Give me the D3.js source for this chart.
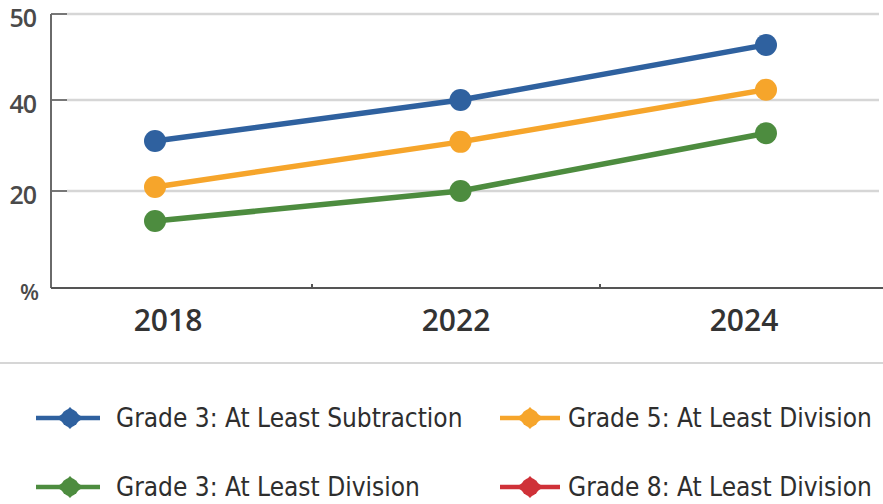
<!DOCTYPE html>
<html><head><meta charset="utf-8">
<script src="https://cdn.jsdelivr.net/npm/d3@7/dist/d3.min.js"></script>
<style>body{margin:0;background:#fff}svg{display:block}</style>
</head><body>
<svg id="c" width="883" height="504"></svg>
<script>
const years = ["2018", "2022", "2024"];
const seriesNames = ["Grade 3: At Least Subtraction", "Grade 5: At Least Division", "Grade 3: At Least Division", "Grade 8: At Least Division"];
const seriesColors = ["#2f619f", "#f6a52b", "#4d8c3f", "#cf3138"];
const blueValues = [31, 40, 46.4];
const orangeValues = [20.9, 30.8, 41.2];
const greenValues = [13.8, 20, 32.7];
const redValues = []; // listed in legend only
const yTickValues = [0, 20, 40, 50];
const yTickLabels = ["%", "20", "40", "50"];

const svg = d3.select("#c");
const y = d3.scaleLinear().domain([0, 20, 40, 50]).range([288, 191, 100, 14]);
const x = d3.scalePoint().domain(years).range([155, 766]);
const xLab = d3.scalePoint().domain(years).range([168, 744]);
const left = 51, right = 883, gridEnd = 879;

// gridlines
svg.append("g").selectAll("line").data(yTickValues.filter(v => v > 0)).join("line")
  .attr("x1", left + 16).attr("x2", gridEnd).attr("y1", d => y(d)).attr("y2", d => y(d))
  .attr("stroke", "#d6d6d6").attr("stroke-width", 2.5);
// y tick marks
svg.append("g").selectAll("line").data(yTickValues.filter(v => v > 0)).join("line")
  .attr("x1", left).attr("x2", left + 16).attr("y1", d => y(d)).attr("y2", d => y(d))
  .attr("stroke", "#777").attr("stroke-width", 2);
// axes
svg.append("line").attr("x1", left).attr("x2", left).attr("y1", y(50)).attr("y2", y(0))
  .attr("stroke", "#6a6a6a").attr("stroke-width", 2);
svg.append("line").attr("x1", left).attr("x2", right).attr("y1", y(0)).attr("y2", y(0))
  .attr("stroke", "#555").attr("stroke-width", 2.2);
// small x ticks between categories
const mids = [ (xLab("2018") + xLab("2022")) / 2, (xLab("2022") + xLab("2024")) / 2 ];
svg.append("g").selectAll("line").data(mids).join("line")
  .attr("x1", d => d).attr("x2", d => d).attr("y1", y(0) - 4).attr("y2", y(0))
  .attr("stroke", "#555").attr("stroke-width", 2);

// y labels
svg.append("g").selectAll("text").data(yTickValues).join("text")
  .attr("x", 36).attr("y", d => y(d) + 6)
  .attr("text-anchor", "end").attr("dominant-baseline", "middle")
  .attr("font-family", "'Open Sans', sans-serif").attr("font-size", d => d === 0 ? 22 : 25).attr("font-weight", 600)
  .attr("fill", "#4a4a4a").attr("letter-spacing", d => d === 0 ? -3 : -1)
  .text((d, i) => yTickLabels[i]);

// x labels
svg.append("g").selectAll("text").data(years).join("text")
  .attr("x", d => xLab(d)).attr("y", 323)
  .attr("text-anchor", "middle").attr("dominant-baseline", "middle")
  .attr("font-family", "'Open Sans', sans-serif").attr("font-size", 30).attr("font-weight", 600)
  .attr("fill", "#333")
  .text(d => d);

// separator
svg.append("line").attr("x1", 0).attr("x2", 883).attr("y1", 363).attr("y2", 363)
  .attr("stroke", "#c8c8c8").attr("stroke-width", 1.5);

// series
const series = [blueValues, orangeValues, greenValues, redValues];
const line = d3.line().x((d, i) => x(years[i])).y(d => y(d));
series.forEach((vals, si) => {
  if (!vals.length) return;
  const g = svg.append("g");
  g.append("path").attr("d", line(vals)).attr("fill", "none")
    .attr("stroke", seriesColors[si]).attr("stroke-width", 5.5).attr("stroke-linecap", "round");
  g.selectAll("circle").data(vals).join("circle")
    .attr("cx", (d, i) => x(years[i])).attr("cy", d => y(d)).attr("r", 11)
    .attr("fill", seriesColors[si]);
});

// legend: [lineStart, lineEnd, markerX, textX, y]
const legPos = [[36, 100, 70, 116, 418], [500, 560, 530, 568, 418], [36, 100, 70, 116, 487], [500, 560, 530, 568, 487]];
seriesNames.forEach((name, i) => {
  const [x1, x2, mx, tx, ly] = legPos[i];
  const g = svg.append("g").attr("transform", `translate(0,${ly})`);
  g.append("line").attr("x1", x1).attr("x2", x2).attr("y1", 0).attr("y2", 0)
    .attr("stroke", seriesColors[i]).attr("stroke-width", 4.5);
  g.append("path").attr("transform", `translate(${mx},0)`)
    .attr("d", "M-15,0 Q-7,-3 0,-11 Q7,-3 15,0 Q7,3 0,11 Q-7,3 -15,0Z")
    .attr("fill", seriesColors[i]);
  g.append("circle").attr("cx", mx).attr("cy", 0).attr("r", 9).attr("fill", seriesColors[i]);
  g.append("text").attr("x", tx).attr("y", 1).attr("dominant-baseline", "middle")
    .attr("font-family", "'DejaVu Sans Condensed', 'Liberation Sans Narrow', sans-serif")
    .attr("font-size", 26).attr("fill", "#2e2e2e")
    .text(name);
});
</script>
</body></html>
